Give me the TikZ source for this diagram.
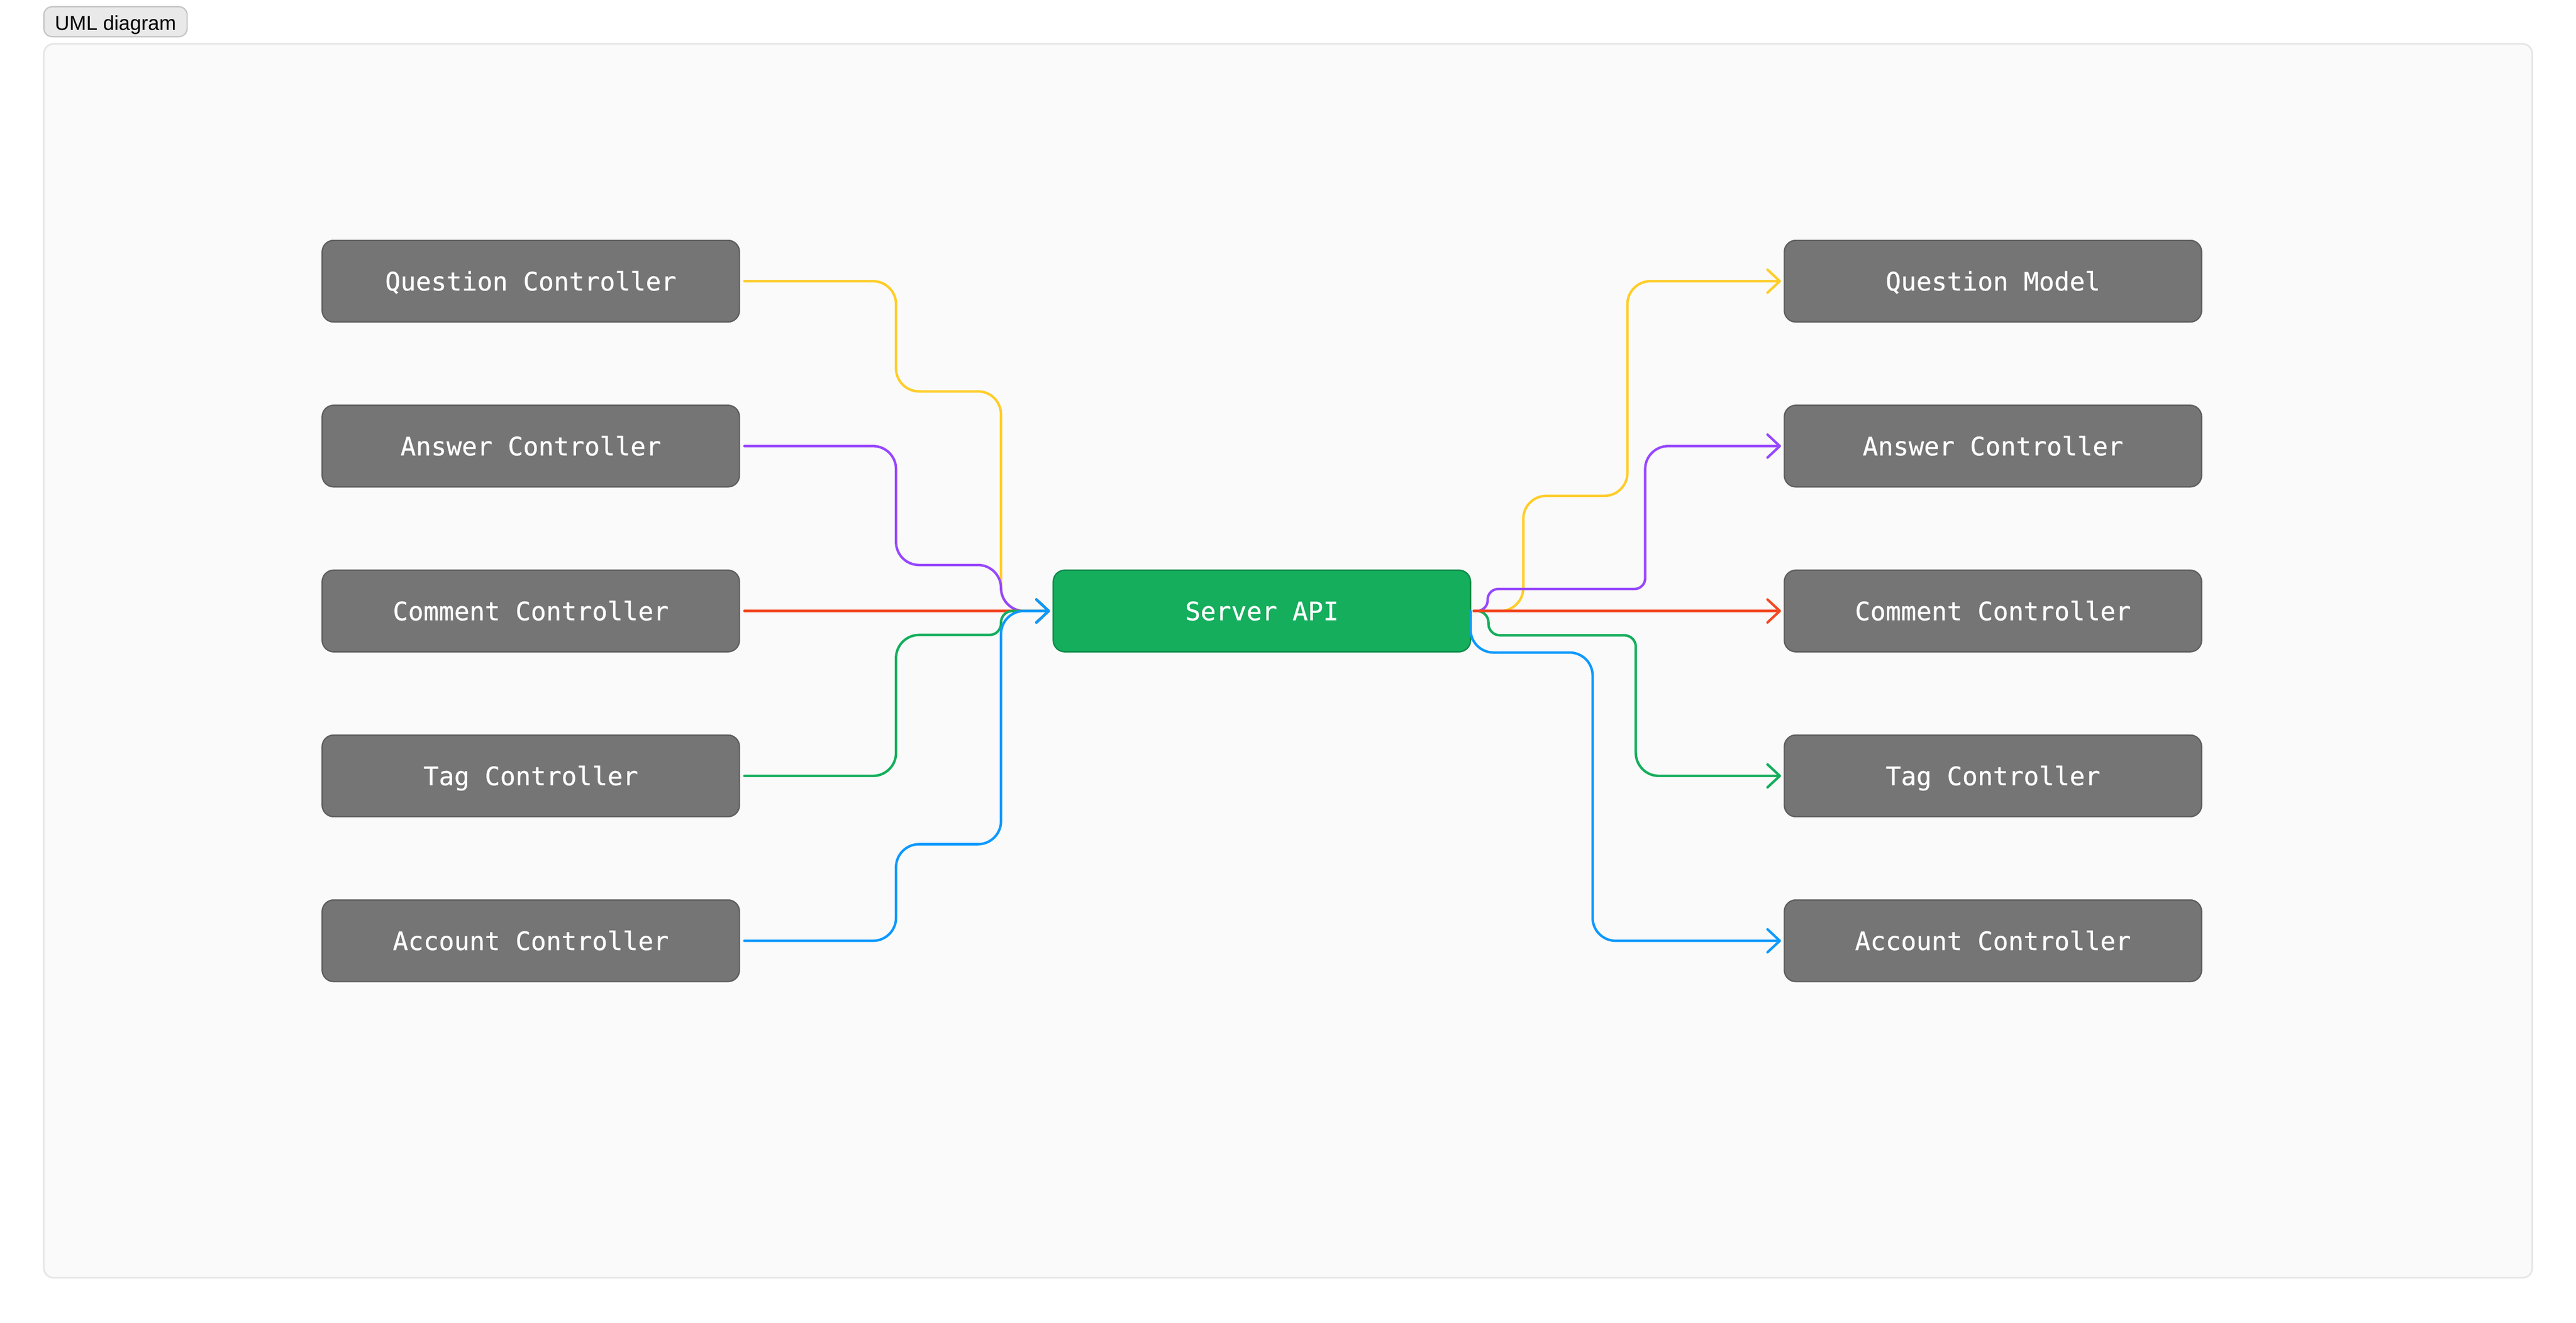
\documentclass[tikz,border=0pt]{standalone}
\usepackage{fontspec}
\setmainfont{Liberation Sans}
\setmonofont{DejaVu Sans Mono}[FakeBold=0.5, AutoFakeBold=0.5]
\usetikzlibrary{positioning, arrows.meta}

\definecolor{boxgrey}{HTML}{757575}
\definecolor{boxline}{HTML}{5E5E5E}
\definecolor{apigreen}{HTML}{14AE5C}
\definecolor{apiline}{HTML}{0E8A48}
\definecolor{lineyellow}{HTML}{FFCD29}
\definecolor{linepurple}{HTML}{9747FF}
\definecolor{linered}{HTML}{F24822}
\definecolor{linegreen}{HTML}{14AE5C}
\definecolor{lineblue}{HTML}{0D99FF}
\definecolor{panelfill}{HTML}{FAFAFA}
\definecolor{panelline}{HTML}{E6E6E6}
\definecolor{tabfill}{HTML}{E9E9E9}
\definecolor{tabline}{HTML}{C6C6C6}

\begin{document}
\begin{tikzpicture}[x=1pt, y=-1pt, node distance=50.7pt and 191pt,
  ctrl/.style={rectangle, draw=boxline, line width=0.8pt, fill=boxgrey, rounded corners=7pt, minimum width=254pt, minimum height=49.7pt, inner sep=0pt, outer sep=0pt, text=white, font=\ttfamily\bfseries\fontsize{15.5}{18}\selectfont, text height=11.3pt, text depth=0pt},
  api/.style={ctrl, draw=apiline, fill=apigreen},
  tab/.style={rectangle, draw=tabline, fill=tabfill, line width=0.8pt, rounded corners=5pt, minimum width=87.2pt, minimum height=18.2pt, inner sep=0pt, font=\fontsize{12.3}{14}\selectfont, text height=10.6pt, text depth=0pt},
  flow/.style={line width=1.5pt, line cap=round, rounded corners=14pt, -{Straight Barb[round, length=7.5pt, width=14pt]}}]
\fill[white] (0,0) rectangle (1568,805.2);
\draw[panelline, fill=panelfill, line width=1pt, rounded corners=6pt] (26.7,26.7) rectangle (1541.4,778);
\node[tab] (title) at (70.3,13.2) {UML diagram};

% controllers on the left
\node[ctrl] (question) at (323.1,171.2) {Question Controller};
\node[ctrl, below=of question] (answer) {Answer Controller};
\node[ctrl, below=of answer] (comment) {Comment Controller};
\node[ctrl, below=of comment] (tag) {Tag Controller};
\node[ctrl, below=of tag] (account) {Account Controller};

\node[api, right=of comment] (server) {Server API};

% targets on the right
\node[ctrl, right=of server] (comment2) {Comment Controller};
\node[ctrl, above=of comment2] (answer2) {Answer Controller};
\node[ctrl, above=of answer2] (model) {Question Model};
\node[ctrl, below=of comment2] (tag2) {Tag Controller};
\node[ctrl, below=of tag2] (account2) {Account Controller};

\draw[flow, lineyellow] ([xshift=3pt]question.east) -| (545.4,238.3) -| (609.3,372) -- ([xshift=-2pt]server.west);
\draw[flow, linepurple] ([xshift=3pt]answer.east) -| (545.4,344) -| (609.3,372) -- ([xshift=-2pt]server.west);
\draw[flow, linered] ([xshift=3pt]comment.east) -- ([xshift=-2pt]server.west);
\draw[flow, linegreen] ([xshift=3pt]tag.east) -| (545.4,386.6) [rounded corners=7pt] -- (609.3,386.6) |- ([xshift=-2pt]server.west);
\draw[flow, lineblue] ([xshift=3pt]account.east) -| (545.4,514) -| (609.3,372) -- ([xshift=-2pt]server.west);

\draw[flow, lineyellow] ([xshift=2pt]server.east) -| (927.2,301.9) -| (990.6,171.2) -- ([xshift=-2pt]model.west);
\draw[flow, linepurple] ([xshift=2pt]server.east) [rounded corners=6.5pt] -| (905.5,358.6) -- (1001.4,358.6) [rounded corners=14pt] |- ([xshift=-2pt]answer2.west);
\draw[flow, linegreen] ([xshift=2pt]server.east) [rounded corners=7pt] -| (906,386.8) -- (995.7,386.8) [rounded corners=14pt] |- ([xshift=-2pt]tag2.west);
\draw[flow, lineblue] (server.east) |- (969.4,397.3) |- ([xshift=-2pt]account2.west);
\draw[flow, linered] ([xshift=2pt]server.east) -- ([xshift=-2pt]comment2.west);
\end{tikzpicture}
\end{document}
